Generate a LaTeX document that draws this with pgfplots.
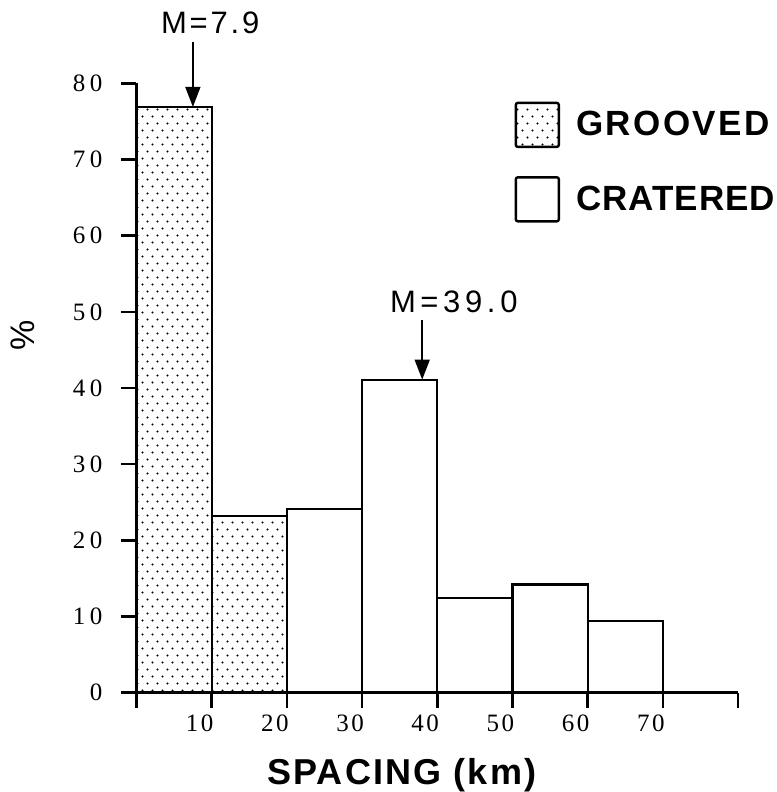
\documentclass[border=0pt]{standalone}
\usepackage{fontspec}
\setmainfont{Liberation Sans}
\usepackage{pgfplots}
\pgfplotsset{compat=1.18}
\usetikzlibrary{patterns,arrows.meta}
\newfontfamily\tickf[LetterSpace=10]{Liberation Serif}
\newfontfamily\ytickf[LetterSpace=18]{Liberation Serif}
\newfontfamily\titlef[LetterSpace=6]{Liberation Sans}
\newfontfamily\legf[LetterSpace=3]{Liberation Sans}
\newfontfamily\mfa[LetterSpace=9]{Liberation Sans}
\newfontfamily\mfb[LetterSpace=15]{Liberation Sans}

\pgfdeclarepatternformonly{sdots}{\pgfqpoint{-1pt}{-1pt}}{\pgfqpoint{6pt}{8pt}}{\pgfqpoint{5pt}{7pt}}{%
  \pgfpathcircle{\pgfqpoint{1.25pt}{1.75pt}}{0.6pt}%
  \pgfpathcircle{\pgfqpoint{3.75pt}{5.25pt}}{0.6pt}%
  \pgfusepath{fill}}

\begin{document}
\begin{tikzpicture}
\path[use as bounding box] (-68.25pt,-49.65pt) rectangle (319.75pt,346.35pt);
\begin{axis}[
  at={(0pt,0pt)}, anchor=south west,
  width=300.75pt, height=304.7pt, scale only axis,
  xmin=0, xmax=80, ymin=0, ymax=80,
  axis lines=left, axis line style={line width=1.3pt, -},
  axis on top, clip=false,
  xtick={0,10,...,80}, xticklabels={,10,20,30,40,50,60,70,},
  ytick={0,10,...,80},
  tick style={line width=1.3pt, black},
  tick align=outside, major tick length=7.5pt,
  /pgf/number format/assume math mode=true,
  xticklabel style={font=\tickf\fontsize{12.5}{14}\selectfont, xshift=-6pt},
  yticklabel style={font=\ytickf\fontsize{12.5}{14}\selectfont, xshift=-6pt},
  xlabel={SPACING (km)},
  xlabel style={font=\titlef\bfseries\fontsize{18}{20}\selectfont, at={(axis description cs:0.441,0)}, anchor=center, yshift=-41pt},
  ylabel={\%},
  ylabel style={font=\fontsize{17}{19}\selectfont, at={(axis description cs:-0.1887,0.587)}, anchor=center},
  legend style={at={(axis description cs:0.618,0.977)}, anchor=north west, draw=none, fill=none,
    font=\legf\bfseries\fontsize{17.5}{20}\selectfont, row sep=14pt,
    /tikz/every odd column/.append style={column sep=6pt}},
  legend cell align=left,
  legend image code/.code={\draw[#1, line width=1.2pt, rounded corners=1pt] (0pt,-11pt) rectangle (21.5pt,11pt);},
]
\addplot[ybar interval, draw=black, line width=1.1pt, pattern=sdots]
  coordinates {(0,76.9) (10,23.2) (20,23.2)};
\addlegendentry{\addfontfeature{LetterSpace=7}GROOVED}
\addplot[ybar interval, draw=black, line width=1.1pt, fill=white]
  coordinates {(20,24.1) (30,41.1) (40,12.4) (50,14.2) (60,9.4) (70,9.4)};
\addlegendentry{CRATERED}

\draw[line width=0.8pt, -{Triangle[length=10pt, width=7.5pt]}] (axis cs:7.5,85.4) -- (axis cs:7.5,76.9);
\node[font=\mfa\fontsize{15.5}{17}\selectfont] at (axis cs:9.8,87.9) {M=7.9};
\draw[line width=0.8pt, -{Triangle[length=10pt, width=7.5pt]}] (axis cs:38,48.9) -- (axis cs:38,41.1);
\node[font=\mfb\fontsize{15.5}{17}\selectfont] at (axis cs:42.2,51.3) {M=39.0};
\end{axis}
\end{tikzpicture}
\end{document}
